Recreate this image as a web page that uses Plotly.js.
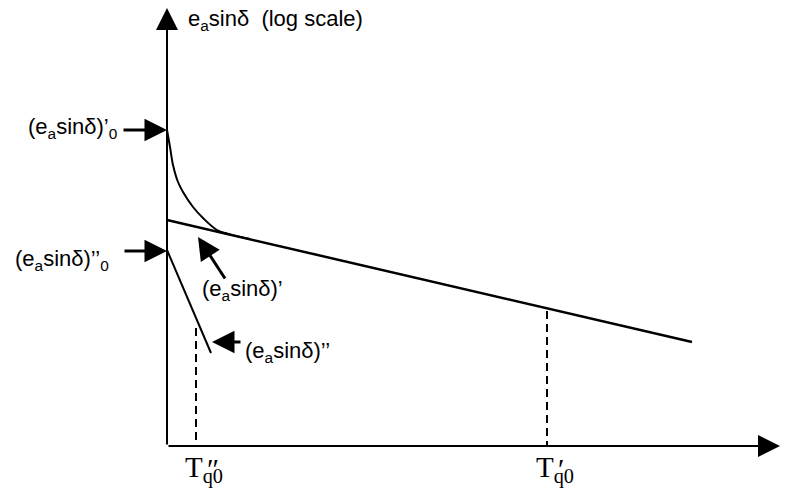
<!DOCTYPE html>
<html>
<head>
<meta charset="utf-8">
<script src="https://cdn.plot.ly/plotly-3.0.1.min.js"></script>
<style>html,body{margin:0;padding:0;background:#fff;}#chart{width:786px;height:492px;}</style>
</head>
<body>
<div id="chart"></div>
<script>
// Time axis (arbitrary units) and log-scale amplitude values
const curveT = [0, 3, 6, 11, 16, 26, 36, 50, 63, 83];
const curveE = [316, 299, 281, 264, 254, 239, 228, 216, 211.6, 206.9];
const transientT = [0, 525];
const transientE = [226, 104];
const subT = [0, 44];
const subE = [196, 93];
const tq0Sub = 29;
const tq0Tr = 380;
const dropSubE = [118, 0];
const dropTrE = [135, 0];
const e0Tr = 316;
const e0Sub = 195;
const axisEndT = 613;
const axisEndE = 438;

const labelFont = {family: 'Liberation Sans, Arial, sans-serif', size: 22, color: '#000'};
const serifFont = {family: 'Liberation Serif, Times New Roman, serif', size: 29, color: '#000'};

const traces = [
  {x: curveT, y: curveE, mode: 'lines', line: {color: '#000', width: 2, shape: 'spline', smoothing: 1}},
  {x: transientT, y: transientE, mode: 'lines', line: {color: '#000', width: 2.5}},
  {x: subT, y: subE, mode: 'lines', line: {color: '#000', width: 2}},
  {x: [tq0Sub, tq0Sub], y: dropSubE, mode: 'lines', line: {color: '#000', width: 2, dash: '8px,5px'}},
  {x: [tq0Tr, tq0Tr], y: dropTrE, mode: 'lines', line: {color: '#000', width: 2, dash: '8px,5px'}}
];

function arrow(x, y, ax, ay, w, s) {
  return {x: x, y: y, ax: ax, ay: ay, xref: 'x', yref: 'y', axref: 'x', ayref: 'y',
    text: '', showarrow: true, arrowhead: 2, arrowwidth: w, arrowsize: s, arrowcolor: '#000', standoff: 0, startstandoff: 0};
}
function label(text, x, y, xa, ya, font) {
  return {x: x, y: y, xref: 'x', yref: 'y', text: text, showarrow: false, xanchor: xa, yanchor: ya, font: font || labelFont};
}

const annotations = [
  arrow(0, axisEndE, 0, 0, 2, 2.2),
  arrow(axisEndT, 0, 0, 0, 2, 2.2),
  arrow(0, e0Tr, -45, e0Tr, 3, 1.5),
  arrow(0, e0Sub, -44, e0Sub, 3, 1.5),
  arrow(31, 209, 59, 166, 3, 1.5),
  arrow(45, 104, 75, 104, 3, 1.5),
  label('e<sub>a</sub>sinδ  (log scale)', 19, 426, 'left', 'middle'),
  label('(e<sub>a</sub>sinδ)’<sub>0</sub>', -48, 318, 'right', 'middle'),
  label('(e<sub>a</sub>sinδ)’’<sub>0</sub>', -56, 186, 'right', 'middle'),
  label('(e<sub>a</sub>sinδ)’', 33, 156, 'left', 'middle'),
  label('(e<sub>a</sub>sinδ)’’', 76, 94, 'left', 'middle'),
  label('T<sub>q0</sub>', 16, -3, 'left', 'top', serifFont),
  label('″', 38, -5, 'left', 'top', serifFont),
  label('T<sub>q0</sub>', 367, -3, 'left', 'top', serifFont),
  label('′', 389, -5, 'left', 'top', serifFont)
];

const layout = {
  width: 786, height: 492,
  margin: {l: 0, r: 0, t: 0, b: 0},
  paper_bgcolor: '#fff', plot_bgcolor: '#fff',
  showlegend: false,
  xaxis: {range: [-167, 619], visible: false, fixedrange: true},
  yaxis: {range: [-46, 446], visible: false, fixedrange: true},
  annotations: annotations
};

Plotly.newPlot('chart', traces, layout, {staticPlot: true, displayModeBar: false});
</script>
</body>
</html>
